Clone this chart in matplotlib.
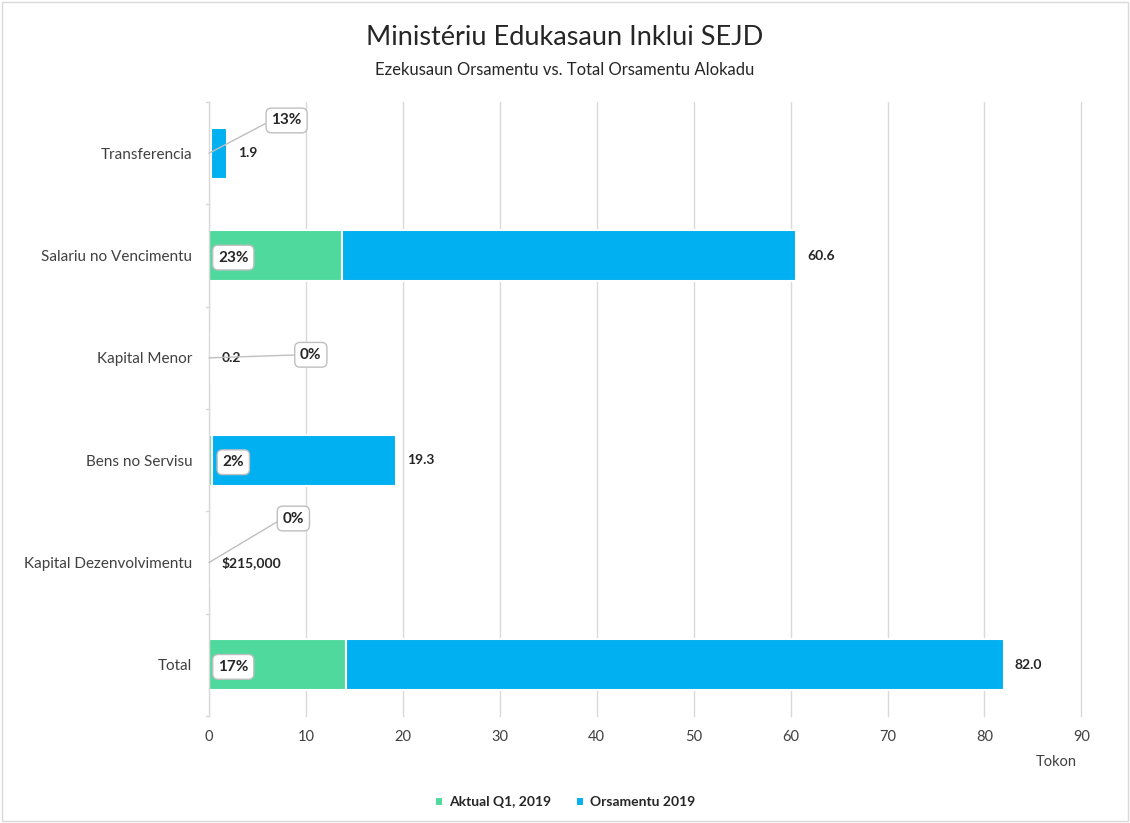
import numpy as np
import matplotlib.pyplot as plt

plt.rcParams['font.family'] = ['Lato', 'DejaVu Sans']

# Data (millions), top-to-bottom order
categories = ['Transferencia', 'Salariu no Vencimentu', 'Kapital Menor',
              'Bens no Servisu', 'Kapital Dezenvolvimentu', 'Total']
aktual = [0.25, 13.7, 0.0, 0.35, 0.0, 14.1]
orsamentu = [1.9, 60.6, 0.2, 19.3, 0.215, 82.0]
total_labels = ['1.9', '60.6', '0.2', '19.3', '$215,000', '82.0']
pct_labels = ['13%', '23%', '0%', '2%', '0%', '17%']

green = '#4FD99D'
blue = '#00B0F0'

fig = plt.figure(figsize=(11.3, 8.23), dpi=100)
ax = fig.add_axes([0.185, 0.13, 0.772, 0.746])

y = np.arange(len(categories))[::-1]
remaining = np.array(orsamentu) - np.array(aktual)
ax.barh(y, aktual, height=0.5, color=green, edgecolor='white', linewidth=1.5,
        label='Aktual Q1, 2019', zorder=3)
ax.barh(y, remaining, left=aktual, height=0.5, color=blue, edgecolor='white',
        linewidth=1.5, label='Orsamentu 2019', zorder=3)

ax.set_xlim(0, 90)
ax.set_ylim(-0.5, len(categories) - 0.5)
ax.set_xticks(np.arange(0, 91, 10))
ax.set_yticks(y)
ax.set_yticklabels(categories, fontsize=11, color='#404040')
ax.tick_params(axis='x', length=0, labelsize=10.5, labelcolor='#404040', pad=10)
ax.tick_params(axis='y', length=0, pad=12)
ax.xaxis.grid(True, color='#D9D9D9', linewidth=1, zorder=0)
for gl in ax.get_xgridlines():
    gl.set_clip_on(False)
for s in ax.spines.values():
    s.set_visible(False)
ax.axvline(0, color='#D9D9D9', linewidth=1, zorder=3.5)
# small tick marks between categories on the y axis
for b in np.arange(-0.5, len(categories), 1.0):
    ax.plot([-0.3, 0], [b, b], color='#D9D9D9', lw=1, clip_on=False)

# total labels at bar ends
for yi, tot, lab in zip(y, orsamentu, total_labels):
    ax.text(tot + 1.1, yi, lab, va='center', ha='left', fontsize=10,
            fontweight='bold', color='#262626', zorder=5)

box = dict(boxstyle='round,pad=0.35', fc='white', ec='#BFBFBF', lw=1)
callouts = {0: (8.0, 0.32), 2: (10.5, 0.03), 4: (8.7, 0.43)}
for i, (yi, act, pct) in enumerate(zip(y, aktual, pct_labels)):
    if i in callouts:
        dx, dy = callouts[i]
        ax.annotate(pct, xy=(0, yi), xytext=(dx, yi + dy), ha='center', va='center',
                    fontsize=11, fontweight='bold', color='#262626', bbox=box,
                    arrowprops=dict(arrowstyle='-', color='#BFBFBF', lw=1,
                                    shrinkA=0, shrinkB=0, relpos=(0, 0.5)),
                    zorder=6)
    else:
        ax.text(2.5, yi - 0.02, pct, ha='center', va='center', fontsize=11,
                fontweight='bold', color='#262626', bbox=box, zorder=6)

ax.text(89.5, -0.95, 'Tokon', ha='right', va='center', fontsize=10.5,
        color='#404040')

fig.text(0.5, 0.955, 'Ministériu Edukasaun Inklui SEJD', ha='center',
         va='center', fontsize=19.5, color='#262626')
fig.text(0.5, 0.915, 'Ezekusaun Orsamentu vs. Total Orsamentu Alokadu',
         ha='center', va='center', fontsize=12, color='#262626')

leg = fig.legend(loc='center', bbox_to_anchor=(0.5, 0.025), ncol=2,
                 frameon=False, fontsize=10, handlelength=0.6, handleheight=0.6,
                 handletextpad=0.4, columnspacing=1.8)
for t in leg.get_texts():
    t.set_fontweight('bold')
    t.set_color('#262626')

fig.patches.append(plt.Rectangle((0.002, 0.002), 0.996, 0.996, transform=fig.transFigure,
                                 fill=False, ec='#D9D9D9', lw=1))

fig.savefig('out.png', dpi=100, facecolor='white')
